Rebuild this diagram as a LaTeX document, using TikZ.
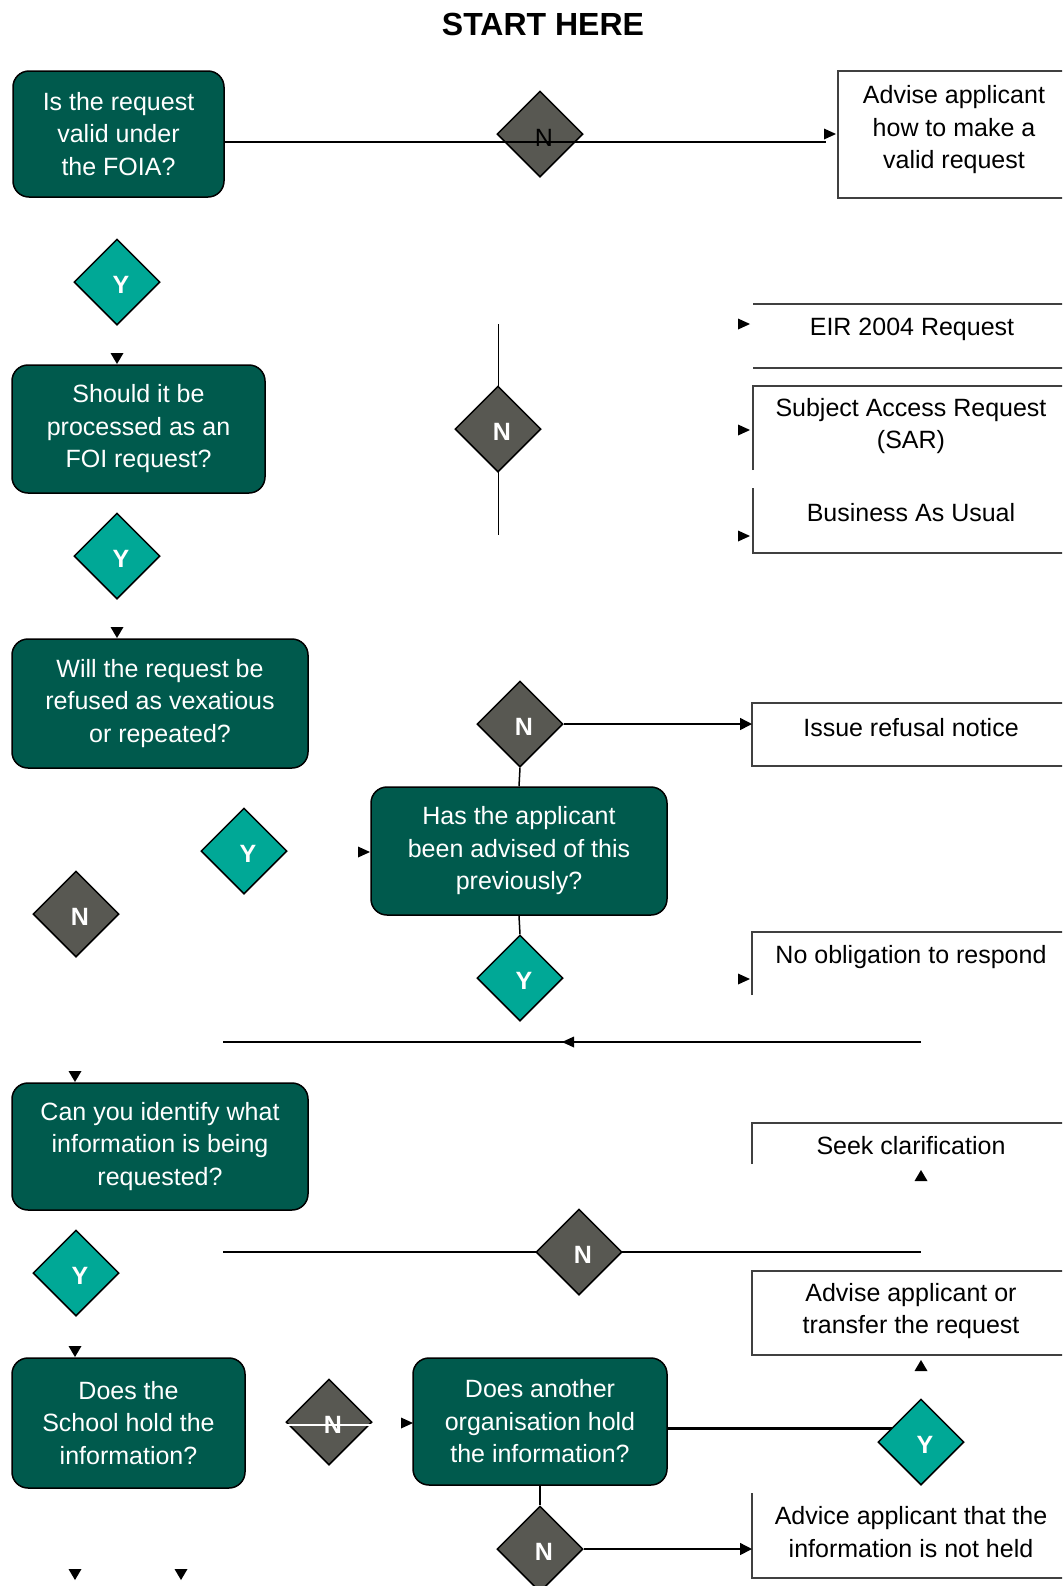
\documentclass[tikz,border=0pt]{standalone}
\usepackage{fontspec}
\setmainfont{Liberation Sans}
\usetikzlibrary{shapes.geometric,backgrounds,arrows.meta}

\definecolor{qgreen}{RGB}{0,90,77}
\definecolor{yteal}{RGB}{0,168,150}
\definecolor{ngrey}{RGB}{88,88,82}
\definecolor{framegrey}{RGB}{64,64,64}

% loose arrow heads (tip point given)
\newcommand{\tipR}[1]{\fill (#1) -- ++(-12,-5.5) -- ++(0,11) -- cycle;}
\newcommand{\tipL}[1]{\fill (#1) -- ++(12,-5.5) -- ++(0,11) -- cycle;}
\newcommand{\tipD}[1]{\fill (#1) -- ++(-6.5,-11) -- ++(13,0) -- cycle;}
\newcommand{\tipU}[1]{\fill (#1) -- ++(-6.5,11) -- ++(13,0) -- cycle;}

\tikzset{
    question/.style={rectangle, rounded corners=8pt, draw=black, line width=0.75pt,
        fill=qgreen, text=white, align=center, inner sep=0pt,
        font=\fontsize{12.5}{16.25}\selectfont},
    ydia/.style={diamond, draw=black, line width=0.75pt, fill=yteal, text=white,
        minimum width=43pt, minimum height=43pt, inner sep=0pt,
        text height=11pt, text depth=0pt,
        execute at begin node=\hspace*{4pt},
        font=\fontsize{12.5}{15}\selectfont\bfseries},
    ndia/.style={ydia, fill=ngrey},
    outcome/.style={align=center, inner sep=0pt, font=\fontsize{12.5}{16.25}\selectfont},
    boxline/.style={draw=framegrey, line width=1pt},
    link/.style={line width=0.75pt},
    arrowlink/.style={link, -{Triangle[length=6pt,width=6pt]}},
}

\begin{document}
\begin{tikzpicture}[x=0.5pt, y=-0.5pt]
    \useasboundingbox (0,0) rectangle (1062,1586);
    \clip (0,0) rectangle (1062,1586);

    \node[font=\fontsize{16}{19}\selectfont\bfseries] (title) at (543,24) {START HERE};

    % question boxes
    \node[question, minimum width=105.5pt, minimum height=63pt] (qvalid) at (118.5,134) {Is the request\\valid under\\the FOIA?};
    \node[question, minimum width=126.5pt, minimum height=64pt] (qshould) at (138.5,429) {Should it be\\processed as an\\FOI request?};
    \node[question, minimum width=148pt, minimum height=64.5pt] (qrefuse) at (160,703.5) {Will the request be\\refused as vexatious\\or repeated?};
    \node[question, minimum width=148pt, minimum height=64pt] (qadvised) at (519,851) {Has the applicant\\been advised of this\\previously?};
    \node[question, minimum width=148pt, minimum height=63.5pt] (qidentify) at (160,1146.5) {Can you identify what\\information is being\\requested?};
    \node[question, minimum width=116.5pt, minimum height=65pt] (qschool) at (128.5,1423) {Does the\\School hold the\\information?};
    \node[question, minimum width=127pt, minimum height=63.5pt] (qother) at (540,1421.5) {Does another\\organisation hold\\the information?};

    % Y / N diamonds
    \node[ndia, text=black, font=\fontsize{12.5}{15}\selectfont, text height=12.5pt] (n1) at (540,134) {N};
    \node[ydia] (y1) at (117,282) {Y};
    \node[ndia] (n2) at (498,429) {N};
    \node[ydia] (y2) at (117,556) {Y};
    \node[ndia] (n3) at (520,724) {N};
    \node[ydia] (y3) at (244,851) {Y};
    \node[ndia] (n4) at (76,914) {N};
    \node[ydia] (y4) at (520,978) {Y};
    \node[ndia] (n5) at (579,1252) {N};
    \node[ydia] (y5) at (76,1273) {Y};
    \node[ndia] (n6) at (329,1422) {N};
    \node[ydia] (y6) at (921,1442) {Y};
    \node[ndia] (n7) at (540,1549) {N};

    % outcome texts
    \node[outcome] (advise) at (954,130) {Advise applicant\\how to make a\\valid request};
    \node[outcome] (eir) at (912,329) {EIR 2004 Request};
    \node[outcome] (sar) at (911,426) {Subject Access Request\\(SAR)};
    \node[outcome] (bau) at (911,513) {Business As Usual};
    \node[outcome] (refusal) at (911,728) {Issue refusal notice};
    \node[outcome] (noobl) at (911,957) {No obligation to respond};
    \node[outcome] (seek) at (911,1146) {Seek clarification};
    \node[outcome] (transfer) at (911,1311) {Advise applicant or\\transfer the request};
    \node[outcome] (nothold) at (911,1532) {Advice applicant that the\\information is not held};

    % outcome frames (partly open)
    \draw[boxline] (1070,71) -- (838,71) -- (838,198) -- (1070,198);
    \draw[boxline] (753,304) -- (1070,304);
    \draw[boxline] (753,368) -- (1070,368);
    \draw[boxline] (753,470) -- (753,386) -- (1070,386);
    \draw[boxline] (753,488) -- (753,553) -- (1070,553);
    \draw[boxline] (1070,703) -- (752,703) -- (752,766) -- (1070,766);
    \draw[boxline] (752,995) -- (752,932) -- (1070,932);
    \draw[boxline] (752,1164) -- (752,1123) -- (1070,1123);
    \draw[boxline] (1070,1271) -- (752,1271) -- (752,1355) -- (1070,1355);
    \draw[boxline] (752,1493) -- (752,1578) -- (1070,1578);

    % free ends
    \coordinate (advisew) at (838,134);
    \coordinate (refusalw) at (752,724);
    \coordinate (notholdw) at (752,1549);
    \coordinate (sortt) at (498,324);
    \coordinate (sortb) at (498,535);
    \coordinate (backr) at (921,1042);
    \coordinate (backl) at (223,1042);
    \coordinate (clarl) at (223,1252);
    \coordinate (clarr) at (921,1252);

    % connectors under the diamonds
    \begin{scope}[on background layer]
        \draw[line width=0.5pt] (sortt) -- (sortb);
        \draw[link] (n3.south) -- (qadvised.north);
        \draw[link] (qadvised.south) -- (y4.north);
        \draw[link] (backr) -- (backl);
        \draw[link] (clarl) -- (clarr);
        \draw[line width=1.5pt] ([yshift=-3.25pt]qother.east) -- ([yshift=7pt]y6.center);
        \draw[link] (qother.south) -- (n7.north);
    \end{scope}

    % connectors on top
    \draw[line width=0.6pt] ([yshift=-4pt]qvalid.east) -- ([xshift=-6pt,yshift=-4pt]advisew);
    \draw[arrowlink] (n3.east) -- (refusalw);
    \draw[arrowlink] (n7.east) -- (notholdw);
    \draw[white, line width=0.8pt] ([yshift=-1pt]qschool.east) -- ([yshift=-1.5pt]n6.east);

    % loose arrow heads
    \tipR{836,134}
    \tipD{117,364}
    \tipR{750,324}
    \tipR{750,430}
    \tipR{750,536}
    \tipD{117,638}
    \tipR{370,852}
    \tipR{750,979}
    \tipL{562,1042}
    \tipD{75,1082}
    \tipU{921,1170}
    \tipD{75,1357}
    \tipU{921,1360}
    \tipR{413,1423}
    \tipD{75,1580}
    \tipD{181,1580}
\end{tikzpicture}
\end{document}
